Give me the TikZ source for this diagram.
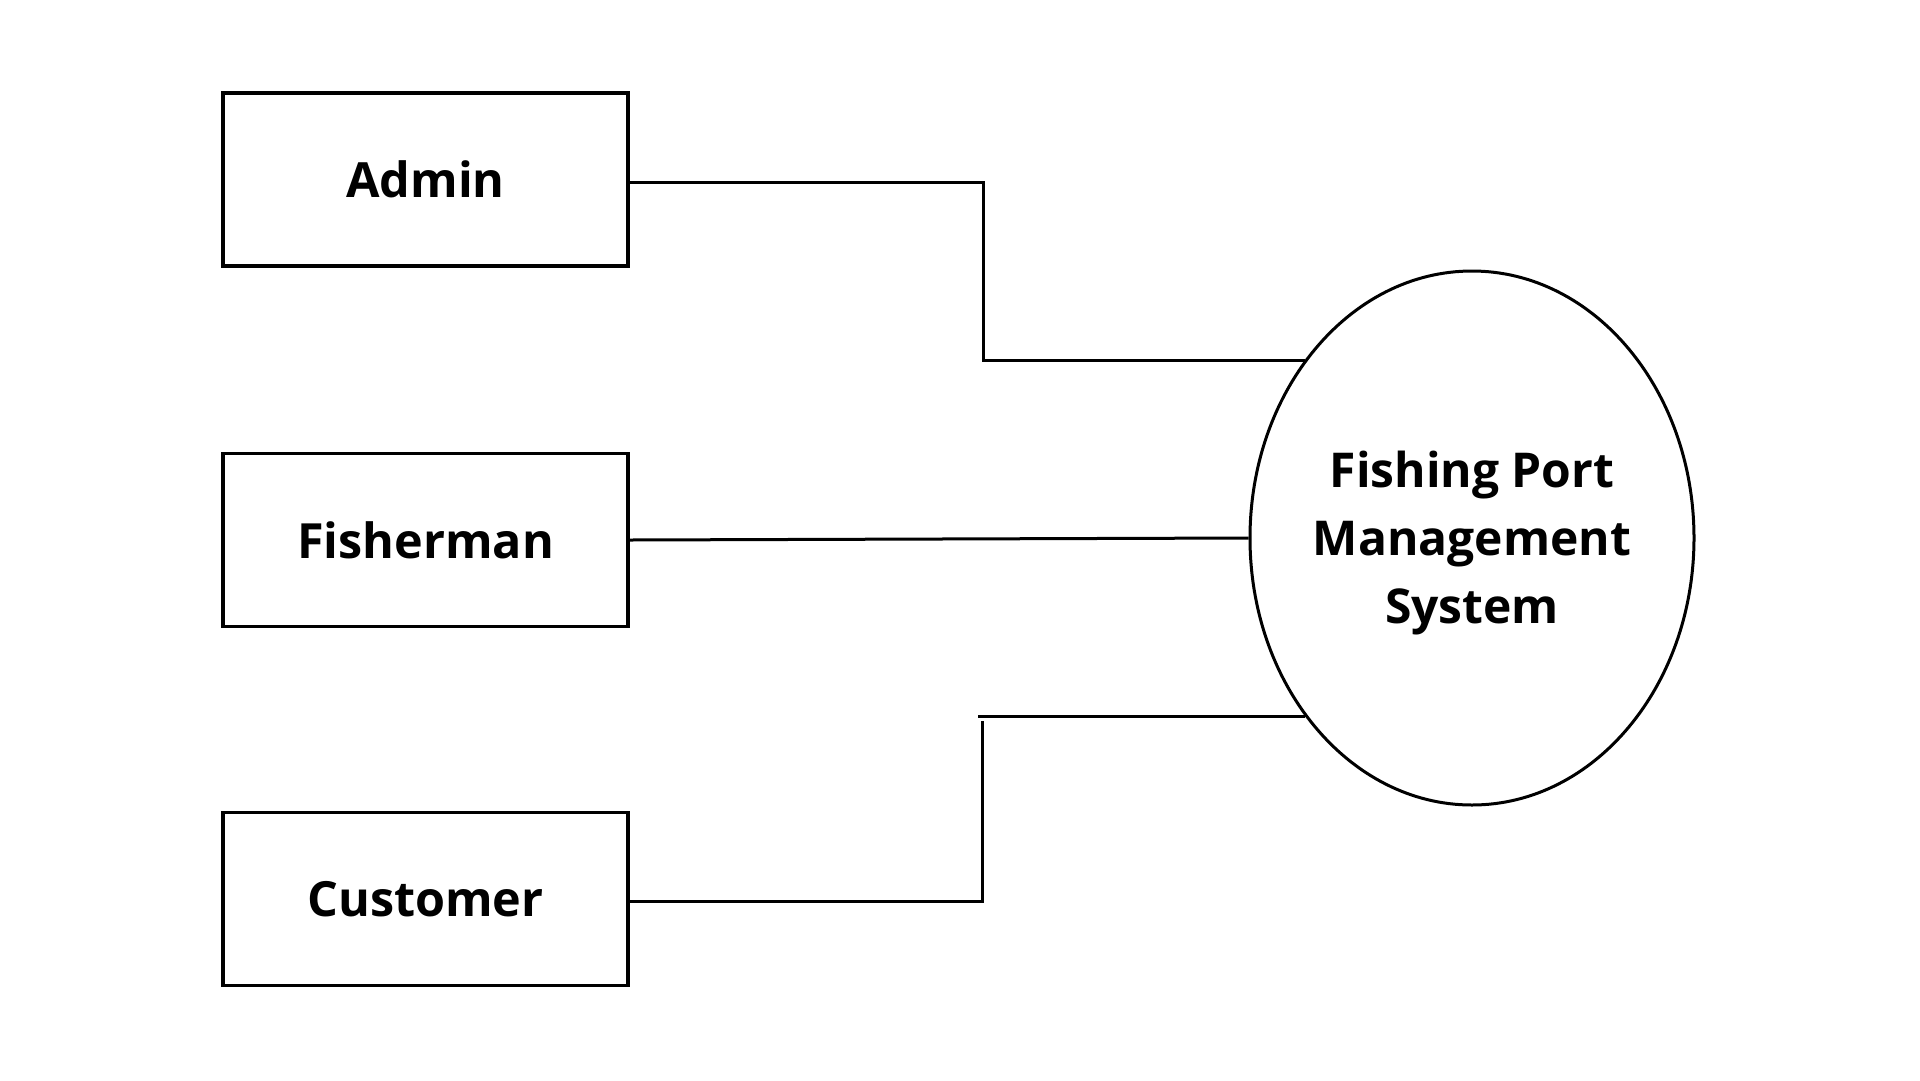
\documentclass[tikz,border=0pt]{standalone}
\usepackage{fontspec}
\setmainfont{Open Sans}
\usetikzlibrary{shapes.geometric}
\begin{document}
\begin{tikzpicture}[x=1pt,y=-1pt,
  actor/.style={draw,line width=3.2pt,rectangle,minimum width=405pt,minimum height=173pt,inner sep=0pt,font=\fontsize{48.5}{58}\selectfont\bfseries},
  sysnode/.style={draw,line width=3pt,ellipse,minimum width=444pt,minimum height=534pt,inner sep=0pt},
  systext/.style={align=center,inner sep=0pt,font=\fontsize{48}{68}\selectfont\bfseries},
  link/.style={line width=3pt}]
\useasboundingbox[fill=white] (0,0) rectangle (1920,1080);
\node[actor] (admin) at (425.5,179.5) {Admin};
\node[actor] (fisher) at (425.5,540) {Fisherman};
\node[actor] (customer) at (425.5,899) {Customer};
\node[sysnode] (sys) at (1472,538) {};
\node[systext] (syslabel) at ([yshift=-5pt]sys.center) {Fishing Port\\Management\\System};
\coordinate (ac) at (983.5,360);
\coordinate (cc1) at (978,716);
\coordinate (cc2) at (982,721);
\draw[link] ([yshift=-2.5pt]admin.east) -| (ac) -- (ac -| sys.133);
\draw[link] (fisher.east) -- (sys.west);
\draw[link] (cc1) -- (cc1 -| sys.227);
\draw[link] ([yshift=-2pt]customer.east) -| (cc2);
\end{tikzpicture}
\end{document}
